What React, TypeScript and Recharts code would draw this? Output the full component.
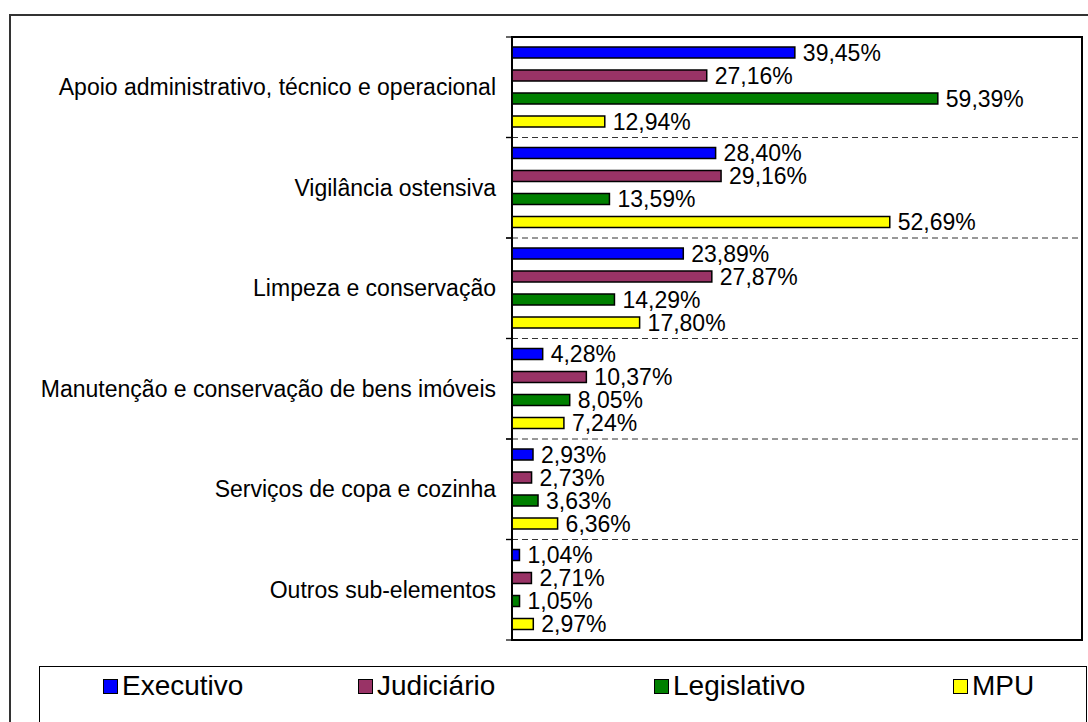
import { Bar, BarChart, CartesianGrid, LabelList, ReferenceArea, XAxis, YAxis } from "recharts";

const categories = [
  "Apoio administrativo, técnico e operacional",
  "Vigilância ostensiva",
  "Limpeza e conservação",
  "Manutenção e conservação de bens imóveis",
  "Serviços de copa e cozinha",
  "Outros sub-elementos"
];

const executivo = [39.45, 28.4, 23.89, 4.28, 2.93, 1.04];
const judiciario = [27.16, 29.16, 27.87, 10.37, 2.73, 2.71];
const legislativo = [59.39, 13.59, 14.29, 8.05, 3.63, 1.05];
const mpu = [12.94, 52.69, 17.8, 7.24, 6.36, 2.97];

const series = [
  { key: "executivo", name: "Executivo", color: "#0000ff", values: executivo },
  { key: "judiciario", name: "Judiciário", color: "#993366", values: judiciario },
  { key: "legislativo", name: "Legislativo", color: "#008000", values: legislativo },
  { key: "mpu", name: "MPU", color: "#ffff00", values: mpu }
];

const rows = categories.map((name, i) => {
  const row: Record<string, string | number> = { name };
  series.forEach((s) => {
    row[s.key] = s.values[i];
  });
  return row;
});

const legendLeft = [103, 358, 654, 953];
const font = "'Liberation Sans', Arial, sans-serif";

const pct = (v: unknown) => `${Number(v).toFixed(2).replace(".", ",")}%`;

// dashed lines on the boundaries between category bands (bands have no padding)
function boundaryLines({ offset }: any) {
  if (!offset || typeof offset.top !== "number") return [];
  const band = offset.height / categories.length;
  return categories.slice(1).map((_, i) => offset.top + band * (i + 1));
}

// category label plus the small Excel-style tick marks on the band edges
function CategoryTick({ x, y, payload }: any) {
  const half = payload?.offset ?? 0;
  return (
    <g>
      <line x1={x + 10} x2={x + 16} y1={y - half} y2={y - half} stroke="#000" strokeWidth={1.2} />
      <line x1={x + 10} x2={x + 16} y1={y + half} y2={y + half} stroke="#000" strokeWidth={1.2} />
      <text x={x} y={y} dy="0.355em" textAnchor="end" fill="#000" fontSize={23} fontFamily={font}>
        {payload.value}
      </text>
    </g>
  );
}

export default function App() {
  return (
    <div
      style={{
        position: "fixed",
        left: 0,
        top: 0,
        width: 1088,
        height: 722,
        overflow: "hidden",
        background: "#fff",
        fontFamily: font
      }}
    >
      <div
        style={{
          position: "absolute",
          left: 9,
          top: 14,
          width: 1200,
          height: 800,
          border: "2px solid #333"
        }}
      />
      <div style={{ position: "absolute", left: 0, top: 0 }}>
        <BarChart
          width={1088}
          height={660}
          data={rows}
          layout="vertical"
          margin={{ top: 37, right: 6, bottom: 20, left: 0 }}
          barSize={11}
          barGap={12}
          style={{ fontFamily: font }}
        >
          <XAxis type="number" domain={[0, 79.5]} allowDataOverflow hide />
          <YAxis
            type="category"
            dataKey="name"
            width={512}
            axisLine={{ stroke: "#000", strokeWidth: 1.5 }}
            tickLine={false}
            tickSize={6}
            tickMargin={10}
            interval={0}
            tick={<CategoryTick />}
          />
          <CartesianGrid
            vertical={false}
            stroke="#333"
            strokeDasharray="6 4"
            horizontalCoordinatesGenerator={boundaryLines}
          />
          <ReferenceArea
            x1={0}
            x2={79.5}
            y1={categories[0]}
            y2={categories[categories.length - 1]}
            fill="none"
            fillOpacity={0}
            stroke="#000"
            strokeWidth={2}
          />
          {series.map((s) => (
            <Bar
              key={s.key}
              dataKey={s.key}
              name={s.name}
              fill={s.color}
              stroke="#000"
              strokeWidth={1.5}
              isAnimationActive={false}
            >
              <LabelList
                dataKey={s.key}
                position="right"
                offset={8}
                formatter={pct}
                fill="#000"
                fontSize={23}
                fontFamily={font}
              />
            </Bar>
          ))}
        </BarChart>
      </div>
      <div
        style={{
          position: "absolute",
          left: 39,
          top: 666,
          width: 1046,
          height: 80,
          border: "1.5px solid #000"
        }}
      />
      {series.map((s, i) => (
        <div
          key={s.key}
          style={{
            position: "absolute",
            left: legendLeft[i],
            top: 670,
            display: "flex",
            alignItems: "center",
            fontSize: 28,
            color: "#000",
            lineHeight: "32px"
          }}
        >
          <span
            style={{
              display: "inline-block",
              width: 13,
              height: 13,
              background: s.color,
              border: "1.5px solid #000",
              marginRight: 4
            }}
          />
          {s.name}
        </div>
      ))}
    </div>
  );
}
